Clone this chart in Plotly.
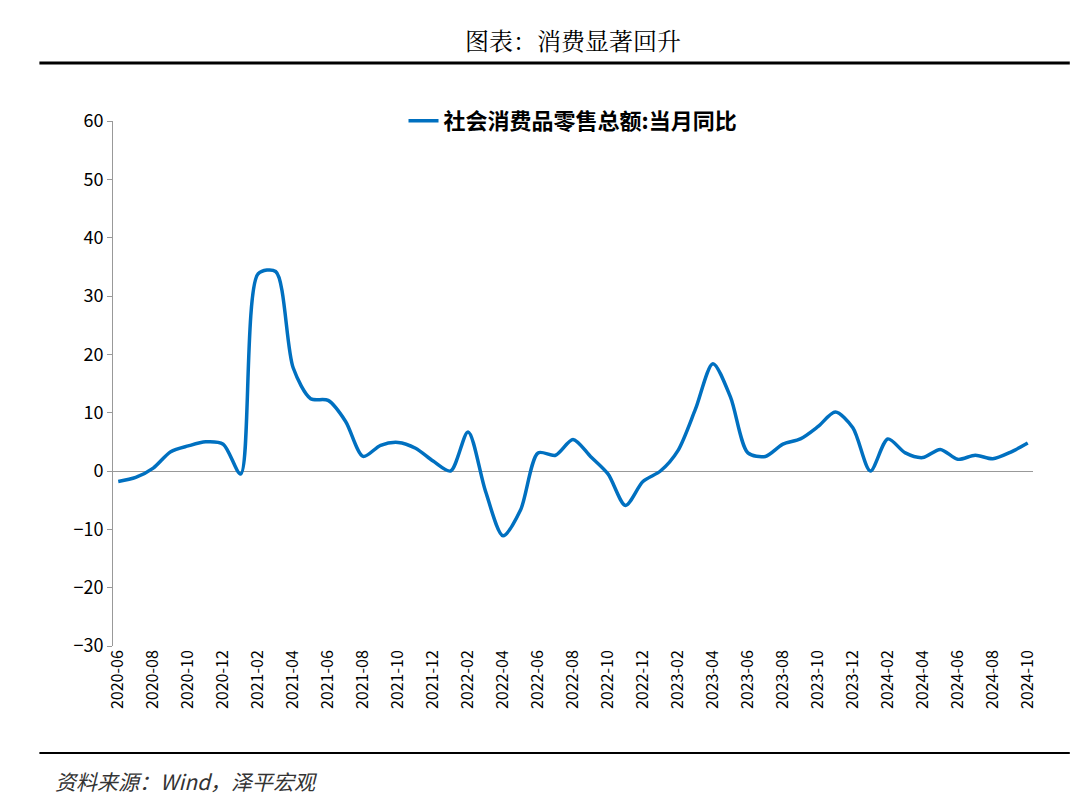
import pandas as pd
import plotly.graph_objects as go

months = pd.date_range("2020-06", "2024-10", freq="MS").strftime("%Y-%m").tolist()
retail_yoy = [-1.8, -1.1, 0.5, 3.3, 4.3, 5.0, 4.6,
              -0.5, 33.8, 34.2, 17.7, 12.4, 12.1, 8.5, 2.5, 4.4, 4.9, 3.9, 1.7,
              0.0, 6.7, -3.5, -11.1, -6.7, 3.1, 2.7, 5.4, 2.5, -0.5, -5.9, -1.8,
              0.0, 3.5, 10.6, 18.4, 12.7, 3.1, 2.5, 4.6, 5.5, 7.6, 10.1, 7.4,
              0.0, 5.5, 3.1, 2.3, 3.7, 2.0, 2.7, 2.1, 3.2, 4.8]
tick_labels = months[::2]

font = "Noto Sans CJK SC"
top, bottom = 113, 159
ph = 797 - top - bottom          # plot height in px
y_bot = 797 - bottom              # pixel y of plot bottom

def py(pix):                      # pixel y -> paper y
    return (y_bot - pix) / ph

fig = go.Figure()
fig.add_trace(go.Scatter(x=months, y=retail_yoy, mode="lines",
                         line=dict(color="#0070C0", width=3.5, shape="spline", smoothing=0.8),
                         name="<b>社会消费品零售总额:当月同比</b>"))

fig.update_layout(
    width=1080, height=797, plot_bgcolor="white", paper_bgcolor="white",
    margin=dict(l=105, r=55, t=top, b=bottom),
    font=dict(family=font, size=18, color="black"),
    legend=dict(x=0.5, y=py(113), xanchor="center", yanchor="middle",
                orientation="h", font=dict(size=22)),
    showlegend=True,
)
fig.update_xaxes(type="category", tickvals=tick_labels, ticktext=tick_labels,
                 tickangle=-90, showline=False, showgrid=False,
                 tickfont=dict(size=16), range=[-0.3, len(months) - 0.7])
fig.update_yaxes(range=[-30, 60], dtick=10, showgrid=False, showline=True,
                 linecolor="#999", ticks="outside", ticklen=5, tickcolor="#999",
                 zeroline=True, zerolinecolor="#999", zerolinewidth=1)

fig.add_annotation(text="图表：消费显著回升", xref="paper", yref="paper",
                   x=0.5, y=py(32), yanchor="middle", showarrow=False,
                   font=dict(size=24, family="Noto Serif CJK SC, Noto Sans CJK SC"))
fig.add_shape(type="line", xref="paper", yref="paper", x0=-0.08, x1=1.04,
              y0=py(55), y1=py(55), line=dict(color="black", width=3))
fig.add_shape(type="line", xref="paper", yref="paper", x0=-0.08, x1=1.04,
              y0=py(745), y1=py(745), line=dict(color="black", width=2))
fig.add_annotation(text="<i>资料来源：Wind，泽平宏观</i>", xref="paper", yref="paper",
                   x=-0.065, xanchor="left", y=py(773), yanchor="middle",
                   showarrow=False, font=dict(size=21, color="#333"))
fig.write_html("out.html")
